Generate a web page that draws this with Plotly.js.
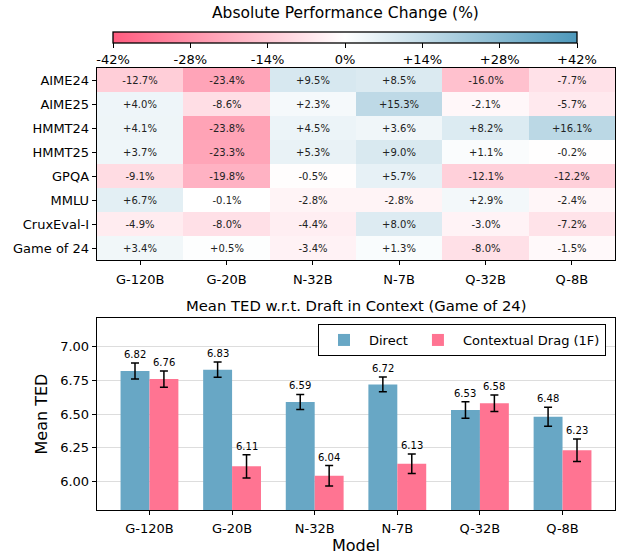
<!DOCTYPE html>
<html>
<head>
<meta charset="utf-8">
<script src="https://cdn.plot.ly/plotly-3.0.1.min.js"></script>
<style>html,body{margin:0;padding:0;background:#fff;}#chart{width:618px;height:557px;}</style>
</head>
<body>
<div id="chart"></div>
<script>
// ---- Data ----
const models = ["G-120B", "G-20B", "N-32B", "N-7B", "Q-32B", "Q-8B"];
const benchmarks = ["AIME24", "AIME25", "HMMT24", "HMMT25", "GPQA", "MMLU", "CruxEval-I", "Game of 24"];
// rows = benchmarks, columns = models
const perfChange = [
  [-12.7, -23.4,  9.5,  8.5, -16.0,  -7.7],
  [  4.0,  -8.6,  2.3, 15.3,  -2.1,  -5.7],
  [  4.1, -23.8,  4.5,  3.6,   8.2,  16.1],
  [  3.7, -23.3,  5.3,  9.0,   1.1,  -0.2],
  [ -9.1, -19.8, -0.5,  5.7, -12.1, -12.2],
  [  6.7,  -0.1, -2.8, -2.8,   2.9,  -2.4],
  [ -4.9,  -8.0, -4.4,  8.0,  -3.0,  -7.2],
  [  3.4,   0.5, -3.4,  1.3,  -8.0,  -1.5]
];
const cbTickVals = [-42, -28, -14, 0, 14, 28, 42];
const cbTickText = ["-42%", "-28%", "-14%", "0%", "+14%", "+28%", "+42%"];

const tedDirect = [6.82, 6.83, 6.59, 6.72, 6.53, 6.48];
const tedDirectErr = [0.060, 0.057, 0.056, 0.055, 0.061, 0.071];
const tedDrag = [6.76, 6.11, 6.04, 6.13, 6.58, 6.23];
const tedDragErr = [0.060, 0.087, 0.076, 0.073, 0.062, 0.083];
const tedTicks = [6.00, 6.25, 6.50, 6.75, 7.00];

// ---- Styling ----
const FONT = "DejaVu Sans, Liberation Sans, sans-serif";
const PINK = "#ff5c7f", BLUE = "#4d98bb";
const BAR_BLUE = "#68a7c5", BAR_PINK = "#ff7492";
const barW = 0.35;
const plotH = 557 - 68 - 47;

const cellText = perfChange.map(r => r.map(v => (v > 0 ? "+" : "") + v.toFixed(1) + "%"));

const heat = {
  type: "heatmap",
  x: models, y: benchmarks, z: perfChange,
  text: cellText, texttemplate: "%{text}",
  textfont: {family: FONT, size: 10, color: "#222"},
  zmin: -42, zmax: 42,
  colorscale: [[0, PINK], [0.5, "#ffffff"], [1, BLUE]],
  xaxis: "x", yaxis: "y",
  hoverinfo: "skip",
  colorbar: {
    orientation: "h",
    xref: "paper", yref: "paper",
    x: (345 - 97) / 518, xanchor: "center",
    y: 1 + (68 - 32) / plotH, yanchor: "top",
    lenmode: "fraction", len: 464 / 518,
    thicknessmode: "pixels", thickness: 11,
    xpad: 0, ypad: 0,
    outlinecolor: "#000", outlinewidth: 1.3,
    tickmode: "array", tickvals: cbTickVals, ticktext: cbTickText,
    ticks: "outside", ticklen: 5, tickcolor: "#000",
    tickfont: {family: FONT, size: 13, color: "#000"}
  }
};

const idx = models.map((_, i) => i);
const errStyle = {type: "data", visible: true, thickness: 1.5, width: 4, color: "#000"};
const barDirect = {
  type: "bar", name: "Direct",
  x: idx.map(i => i - barW / 2), y: tedDirect, width: barW,
  marker: {color: BAR_BLUE},
  error_y: Object.assign({array: tedDirectErr}, errStyle),
  xaxis: "x2", yaxis: "y2", hoverinfo: "skip"
};
const barDrag = {
  type: "bar", name: "Contextual Drag (1F)",
  x: idx.map(i => i + barW / 2), y: tedDrag, width: barW,
  marker: {color: BAR_PINK},
  error_y: Object.assign({array: tedDragErr}, errStyle),
  xaxis: "x2", yaxis: "y2", hoverinfo: "skip"
};

const valueAnn = [];
idx.forEach(i => {
  valueAnn.push({xref: "x2", yref: "y2", x: i - barW / 2, y: tedDirect[i] + tedDirectErr[i],
    text: tedDirect[i].toFixed(2), showarrow: false, yanchor: "bottom", yshift: 1,
    font: {family: FONT, size: 10, color: "#000"}});
  valueAnn.push({xref: "x2", yref: "y2", x: i + barW / 2, y: tedDrag[i] + tedDragErr[i],
    text: tedDrag[i].toFixed(2), showarrow: false, yanchor: "bottom", yshift: 1,
    font: {family: FONT, size: 10, color: "#000"}});
});

const axisLine = {showline: true, mirror: true, linecolor: "#000", linewidth: 1.3};

const layout = {
  width: 618, height: 557,
  margin: {l: 97, r: 3, t: 68, b: 47},
  paper_bgcolor: "#fff", plot_bgcolor: "#fff",
  font: {family: FONT, size: 13, color: "#000"},
  showlegend: true,
  legend: {
    orientation: "h", x: (606 - 97) / 518, xanchor: "right",
    y: 1 - (324 - 68) / plotH, yanchor: "top",
    itemwidth: 40,
    bgcolor: "#fff", bordercolor: "#000", borderwidth: 1,
    font: {family: FONT, size: 13, color: "#000"}
  },
  xaxis: Object.assign({domain: [0, 1], anchor: "y", range: [-0.5, 5.5],
    ticks: "outside", ticklen: 4, tickcolor: "#000", showgrid: false, zeroline: false,
    ticklabelstandoff: 3,
    tickfont: {family: FONT, size: 13}, fixedrange: true}, axisLine),
  yaxis: Object.assign({domain: [1 - (260 - 68) / plotH, 1], anchor: "x", range: [7.5, -0.5],
    ticks: "outside", ticklen: 4, tickcolor: "#000", showgrid: false, zeroline: false,
    tickfont: {family: FONT, size: 13}, fixedrange: true}, axisLine),
  xaxis2: Object.assign({domain: [0, 1], anchor: "y2", range: [-0.635, 5.635],
    tickvals: idx, ticktext: models,
    ticks: "outside", ticklen: 4, tickcolor: "#000", showgrid: false, zeroline: false,
    ticklabelstandoff: 2,
    tickfont: {family: FONT, size: 13},
    title: {text: "Model", font: {family: FONT, size: 16}, standoff: 2}}, axisLine),
  yaxis2: Object.assign({domain: [0, 1 - (318 - 68) / plotH], anchor: "x2", range: [5.785, 7.215],
    tickvals: tedTicks, tickformat: ".2f",
    ticks: "outside", ticklen: 4, tickcolor: "#000",
    showgrid: true, gridcolor: "#dddddd", gridwidth: 1, zeroline: false,
    tickfont: {family: FONT, size: 13},
    title: {text: "Mean TED", font: {family: FONT, size: 16}, standoff: 8}}, axisLine),
  annotations: [
    {xref: "paper", yref: "paper", x: (345 - 97) / 518, y: 1 + (68 - 13) / plotH,
     text: "Absolute Performance Change (%)", showarrow: false, yanchor: "middle",
     font: {family: FONT, size: 15.5, color: "#000"}},
    {xref: "paper", yref: "paper", x: 0.5, y: 1 - (305 - 68) / plotH,
     text: "Mean TED w.r.t. Draft in Context (Game of 24)", showarrow: false, yanchor: "middle",
     font: {family: FONT, size: 14.8, color: "#000"}}
  ].concat(valueAnn)
};

Plotly.newPlot("chart", [heat, barDirect, barDrag], layout, {displayModeBar: false, staticPlot: true});
</script>
</body>
</html>
